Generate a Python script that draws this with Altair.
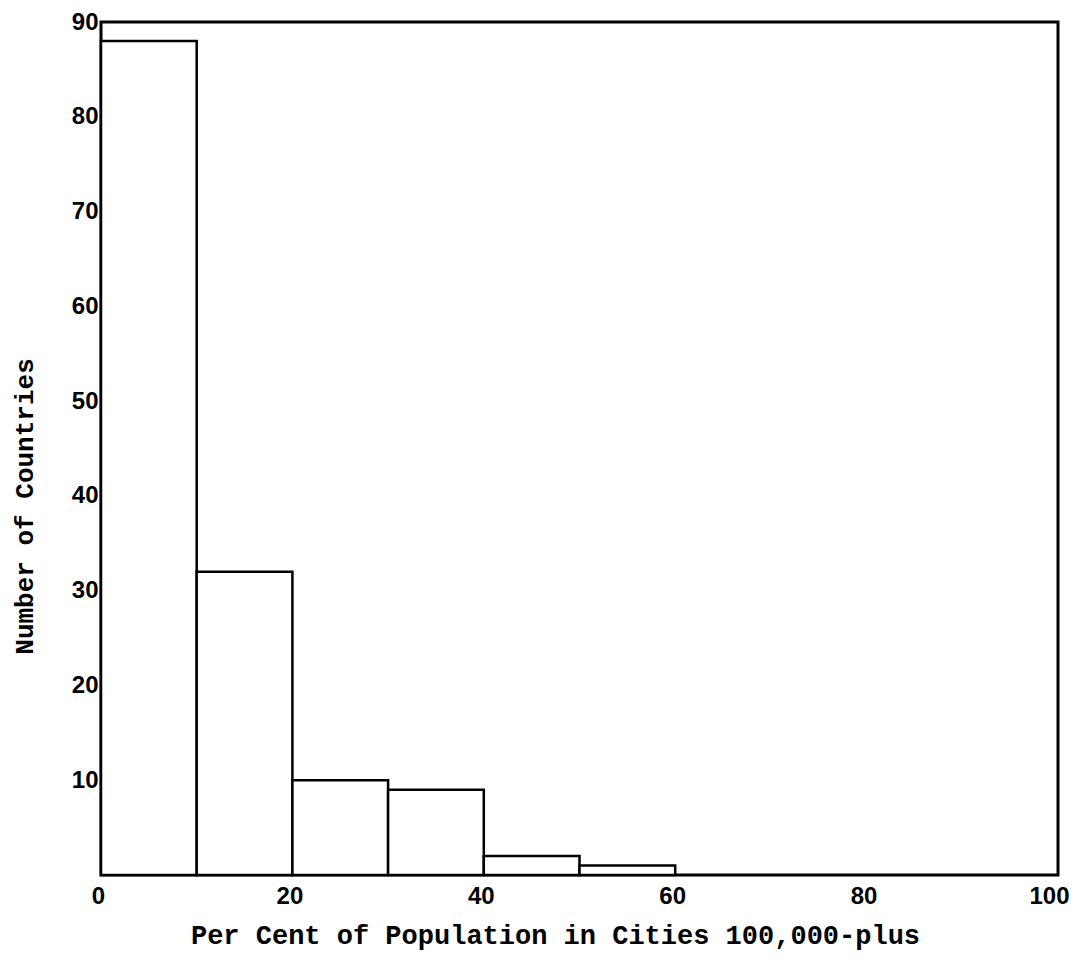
import altair as alt
import pandas as pd

bin_start = [0, 10, 20, 30, 40, 50, 60, 70, 80, 90]
bin_end = [10, 20, 30, 40, 50, 60, 70, 80, 90, 100]
counts = [88, 32, 10, 9, 2, 1, 0, 0, 0, 0]
x_ticks = [0, 20, 40, 60, 80, 100]
y_ticks = [10, 20, 30, 40, 50, 60, 70, 80, 90]

df = pd.DataFrame({"start": bin_start, "end": bin_end, "count": counts})
df = df[df["count"] > 0]

TICK_FONT = "Liberation Sans, Arial, sans-serif"
TITLE_FONT = "Liberation Mono, Courier New, monospace"

chart = alt.Chart(df).mark_bar(
    fill="white", stroke="black", strokeWidth=2.5
).encode(
    x=alt.X("start:Q",
            scale=alt.Scale(domain=[0, 100], nice=False, zero=True),
            axis=alt.Axis(values=x_ticks, title="Per Cent of Population in Cities 100,000-plus",
                          grid=False, domain=False, ticks=False,
                          labelFont=TICK_FONT, labelFontSize=24, labelColor="black",
                          labelFontWeight="bold",
                          labelPadding=9, labelBound=False, labelFlush=False,
                          labelAlign=alt.expr("datum.value == 100 ? 'right' : 'center'"),
                          labelOffset=alt.expr("datum.value == 100 ? 11 : -3"),
                          titleFont=TITLE_FONT, titleFontSize=27, titleFontWeight="bold",
                          titleColor="black", titleX=454, titleY=68,
                          titleBaseline="alphabetic", titleAnchor="middle")),
    x2="end:Q",
    y=alt.Y("count:Q",
            scale=alt.Scale(domain=[0, 90], nice=False),
            axis=alt.Axis(values=y_ticks, title="Number of Countries",
                          grid=False, domain=False, ticks=False,
                          labelFont=TICK_FONT, labelFontSize=24, labelColor="black",
                          labelFontWeight="bold",
                          labelPadding=3, labelBound=False, labelFlush=False,
                          titleFont=TITLE_FONT, titleFontSize=26, titleFontWeight="bold",
                          titleColor="black", titleX=-77, titleY=484,
                          titleBaseline="middle", titleAnchor="middle")),
    y2=alt.value(853),
).properties(
    width=957, height=853,
    background="white",
    autosize=alt.AutoSizeParams(type="none"),
    padding={"left": 93, "top": 14, "right": 12, "bottom": 80},
).configure_view(
    stroke="black", strokeWidth=3
)

chart.save("out.html", embed_options={"renderer": "svg", "actions": False})
